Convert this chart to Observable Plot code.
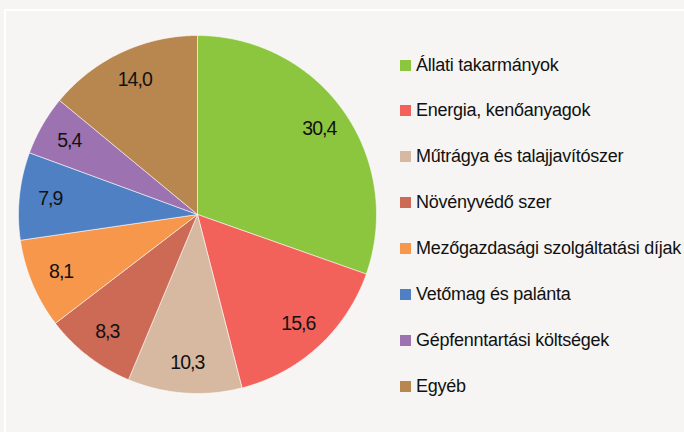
<!DOCTYPE html>
<html>
<head>
<meta charset="utf-8">
<script src="https://cdn.jsdelivr.net/npm/d3@7"></script>
<script src="https://cdn.jsdelivr.net/npm/@observablehq/plot@0.6"></script>
<style>
  html, body { margin: 0; padding: 0; background: #f6f5f3; }
  #wrap { position: relative; width: 684px; height: 432px; overflow: hidden; background: #f6f5f3; font-family: "Liberation Sans", Arial, sans-serif; }
  #frame { position: absolute; left: 4px; top: 9px; width: 800px; height: 600px; border-left: 2px solid #fff; border-top: 2px solid #fff; }
  #chart { position: absolute; left: 0; top: 0; }
  #legend { position: absolute; left: 400px; top: 0; }
  .item { position: absolute; left: 0; white-space: nowrap; display: flex; align-items: center; font-size: 18px; letter-spacing: -0.25px; color: #111; height: 22px; }
  .sw { width: 11px; height: 11px; margin-right: 5px; flex: none; }
</style>
</head>
<body>
<div id="wrap"><div id="frame"></div><div id="chart"></div><div id="legend"></div></div>
<script>
const categories = ["Állati takarmányok", "Energia, kenőanyagok", "Műtrágya és talajjavítószer", "Növényvédő szer", "Mezőgazdasági szolgáltatási díjak", "Vetőmag és palánta", "Gépfenntartási költségek", "Egyéb"];
const values = [30.4, 15.6, 10.3, 8.3, 8.1, 7.9, 5.4, 14.0];
const labels = ["30,4", "15,6", "10,3", "8,3", "8,1", "7,9", "5,4", "14,0"];
const colors = ["#8cc63f", "#f3625a", "#d7b9a1", "#cc6a55", "#f7974b", "#4f80c3", "#9c72b0", "#b8874f"];

const data = categories.map((c, i) => ({cat: c, v: values[i], label: labels[i]}));
const arcs = d3.pie().sort(null).value(d => d.v)(data);

const poly = [];
arcs.forEach(a => {
  poly.push({cat: a.data.cat, x: 0, y: 0});
  const n = Math.max(2, Math.ceil((a.endAngle - a.startAngle) / (Math.PI / 360)));
  for (let k = 0; k <= n; k++) {
    const t = a.startAngle + (a.endAngle - a.startAngle) * k / n;
    poly.push({cat: a.data.cat, x: Math.sin(t), y: Math.cos(t)});
  }
  poly.push({cat: a.data.cat, x: 0, y: 0});
});
const lab = arcs.map(a => {
  const m = (a.startAngle + a.endAngle) / 2;
  return {cat: a.data.cat, label: a.data.label, x: 0.83 * Math.sin(m), y: 0.83 * Math.cos(m)};
});

const plot = Plot.plot({
  width: 684, height: 432,
  marginLeft: 18, marginRight: 308, marginTop: 35, marginBottom: 39,
  x: {domain: [-1, 1], axis: null},
  y: {domain: [-1, 1], axis: null},
  color: {domain: categories, range: colors},
  style: {background: "transparent", fontFamily: "Liberation Sans, Arial, sans-serif"},
  marks: [
    Plot.line(poly, {x: "x", y: "y", z: "cat", fill: "cat", stroke: "#ffffff", strokeWidth: 0.7, strokeOpacity: 0.8, curve: "linear"}),
    Plot.text(lab, {x: "x", y: "y", text: "label", fontSize: 19.5, fill: "#111", dx: 0.5})
  ]
});
plot.querySelectorAll("text").forEach(t => t.style.letterSpacing = "-1px");
document.getElementById("chart").appendChild(plot);

const leg = document.getElementById("legend");
categories.forEach((c, i) => {
  const row = document.createElement("div");
  row.className = "item";
  row.style.top = (65 + i * 45.9 - 11) + "px";
  const sw = document.createElement("span");
  sw.className = "sw";
  sw.style.background = colors[i];
  const tx = document.createElement("span");
  tx.textContent = c;
  row.appendChild(sw); row.appendChild(tx);
  leg.appendChild(row);
});
</script>
</body>
</html>
